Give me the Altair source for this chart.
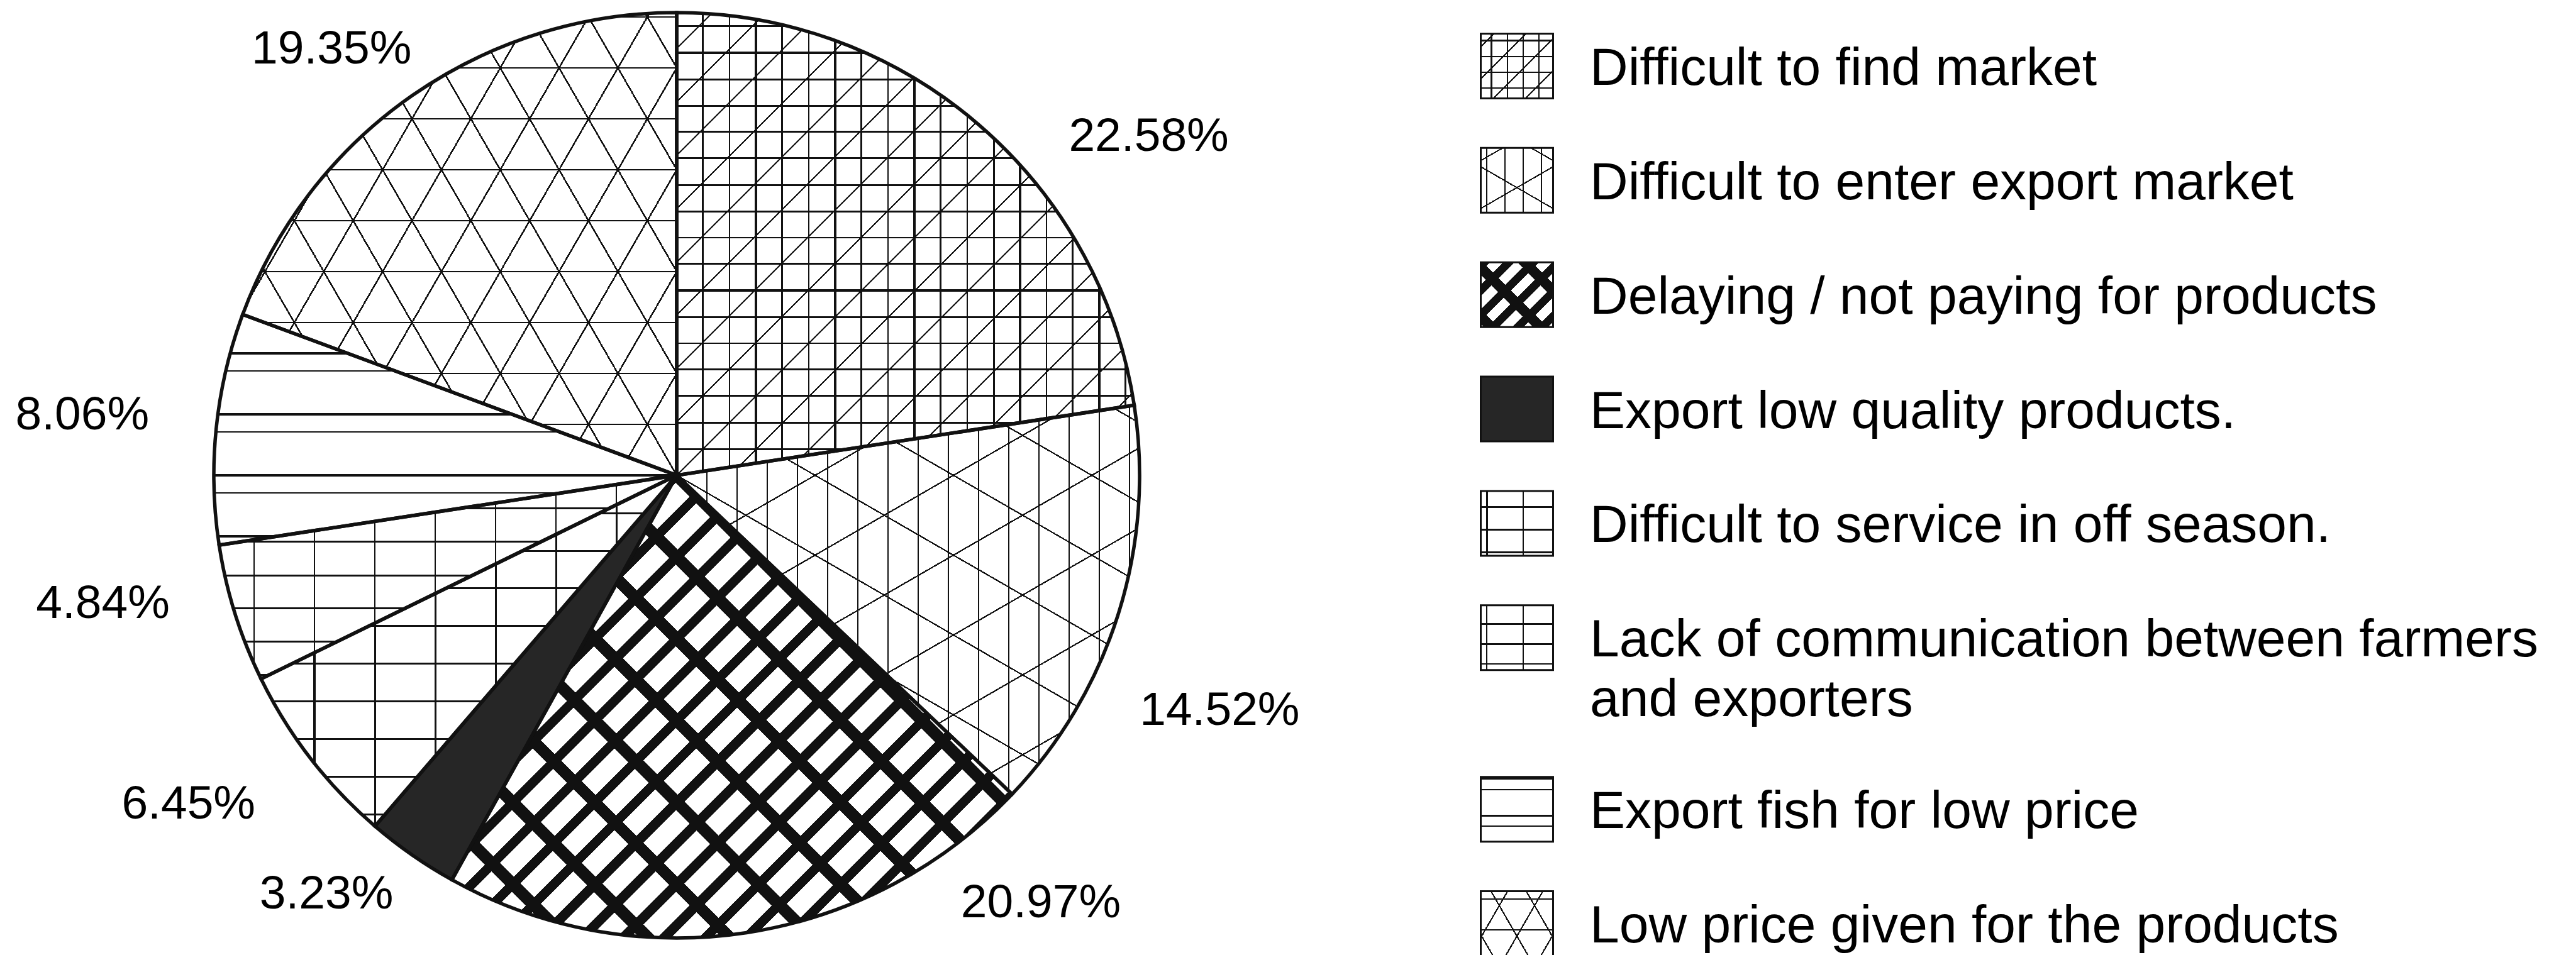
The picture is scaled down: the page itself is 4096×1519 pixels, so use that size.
import math
import altair as alt
import pandas as pd

# ---------------- data ----------------
categories = [
    "Difficult to find market",
    "Difficult to enter export market",
    "Delaying / not paying for products",
    "Export low quality products.",
    "Difficult to service in off season.",
    "Lack of communication between farmers\nand exporters",
    "Export fish for low price",
    "Low price given for the products",
]
percentages = [22.58, 14.52, 20.97, 3.23, 6.45, 4.84, 8.06, 19.35]

df = pd.DataFrame({"cat": categories, "pct": percentages,
                   "idx": list(range(len(categories)))})

# ---------------- style / layout ----------------
FONT = "Liberation Sans"
INK = "#111111"
CLEAR = "rgba(0,0,0,0)"
CX, CY, R = 1068, 748, 736          # pie centre and radius (chart coords)
LABEL_NUDGE = [3.80, 1.67, -8.81, 1.40, 1.04, 1.33, -0.01, -1.16]   # label angle shift, % of circle
LABEL_RADII = [924, 941, 893, 868, 936, 935, 950, 872]              # label distance from centre
BASE = ["white", "white", "white", "#262626", "white", "white", "white", "white"]
# pattern families: (normal angle deg, spacing, line width, colour, phase)
PATTERNS = [
    [(90, 42, 3, INK, 0), (0, 42, 3, INK, 0), (45, 60, 2.2, INK, 0)],
    [(0, 48, 2.2, INK, 0), (60, 110, 2.2, INK, 0), (120, 110, 2.2, INK, 0)],
    [(45, 46, 15, INK, 0), (135, 92, 19, INK, 0)],
    [],
    [(90, 60, 3, INK, 0), (0, 96, 3, INK, 0)],
    [(90, 53, 3, INK, 0), (0, 96, 2.5, INK, 0)],
    [(90, 97, 3.5, INK, 0), (90, 97, 2.5, INK, 28)],
    [(90, 81, 2.5, INK, 0), (30, 81, 2.5, INK, 0), (150, 81, 2.5, INK, 0)],
]
LEG_SCALE = 0.6
BOX_W, BOX_H = 115, 103
BOX_PATH = "M-1,-{0:.4f}L1,-{0:.4f}L1,{0:.4f}L-1,{0:.4f}Z".format(BOX_H / BOX_W)
BOX_SIZE = BOX_W ** 2
LEG_BOX_X, LEG_TEXT_X = 2404, 2520


def arc_bbox(a0, a1, r):
    pts = [(0.0, 0.0)]
    for a in (a0, a1):
        pts.append((r * math.sin(a), -r * math.cos(a)))
    for k in range(0, 5):
        a = k * math.pi / 2
        if a0 < a < a1:
            pts.append((r * math.sin(a), -r * math.cos(a)))
    xs = [p[0] for p in pts]
    ys = [p[1] for p in pts]
    return min(xs), min(ys), max(xs), max(ys)


def stripes(bbox, phi_deg, spacing, width, color, phase=0.0):
    x0, y0, x1, y1 = bbox
    w, h = x1 - x0, y1 - y0
    c, s = math.cos(math.radians(phi_deg)), math.sin(math.radians(phi_deg))
    corners = [(x0, y0), (x1, y0), (x0, y1), (x1, y1)]
    proj = [X * c + Y * s for X, Y in corners]
    smin, smax = min(proj), max(proj)
    D = smax - smin
    Xm, Ym = corners[proj.index(smin)]
    u1, v1 = (Xm - x0) / w, (Ym - y0) / h
    cc = D / ((w * c) ** 2 + (h * s) ** 2)
    dx, dy = cc * w * c, cc * h * s
    stops = [{"offset": 0, "color": CLEAR}]
    last = 0.0
    k0 = math.floor((smin - phase - width) / spacing)
    k1 = math.ceil((smax - phase + width) / spacing)
    for k in range(k0, k1 + 1):
        sc = phase + k * spacing
        ta = max((sc - width / 2 - smin) / D, 0.0)
        tb = min((sc + width / 2 - smin) / D, 1.0)
        ta, tb = round(ta, 6), round(tb, 6)
        ta = max(ta, last)
        if tb <= ta:
            continue
        stops += [{"offset": ta, "color": CLEAR}, {"offset": ta, "color": color},
                  {"offset": tb, "color": color}, {"offset": tb, "color": CLEAR}]
        last = tb
    stops.append({"offset": 1, "color": CLEAR})
    return {"gradient": "linear", "x1": round(u1, 6), "y1": round(v1, 6),
            "x2": round(u1 + dx, 6), "y2": round(v1 + dy, 6), "stops": stops}


nudge_expr = "[" + ",".join(str(v) for v in LABEL_NUDGE) + "]"
radii_expr = "[" + ",".join(str(v) for v in LABEL_RADII) + "]"


def base():
    return (alt.Chart(df)
            .transform_window(cum="sum(pct)", sort=[alt.SortField("idx", order="ascending")],
                              frame=[None, 0])
            .transform_calculate(start="datum.cum - datum.pct",
                                 pos="datum.idx + (datum.idx >= 6 ? 0.5 : 0)",
                                 lab="datum.cum - datum.pct / 2 + " + nudge_expr + "[datum.idx]",
                                 lr=radii_expr + "[datum.idx]",
                                 txt="format(datum.pct, '.2f') + '%'"))


TSCALE = alt.Scale(domain=[0, 100])
TH = alt.Theta("start:Q", scale=TSCALE, stack=False)
TH2 = alt.Theta2("cum:Q")
PX, PY = alt.value(CX), alt.value(CY)
FILL = alt.Fill("cat:N", scale=alt.Scale(domain=categories, range=BASE), legend=None)
LEG_Y = alt.Y("pos:Q", scale=alt.Scale(domain=[0, 7.5], range=[97, 1461], nice=False, zero=False),
              axis=None)

layers = []
# pie base fills
layers.append(base().mark_arc(radius=R).encode(theta=TH, theta2=TH2, x=PX, y=PY, fill=FILL))

# pie patterns
cum = 0.0
for i, p in enumerate(percentages):
    a0 = cum / 100 * 2 * math.pi
    cum += p
    a1 = cum / 100 * 2 * math.pi
    bb = arc_bbox(a0, a1, R)
    for (phi, sp, lw, col, ph) in PATTERNS[i]:
        g = stripes(bb, phi, sp, lw, col, ph)
        layers.append(base().transform_filter(f"datum.idx == {i}")
                      .mark_arc(radius=R, fill=g)
                      .encode(theta=TH, theta2=TH2, x=PX, y=PY))

# pie outlines
layers.append(base().mark_arc(radius=R, fill="transparent", stroke=INK, strokeWidth=5.5)
              .encode(theta=TH, theta2=TH2, x=PX, y=PY))

# percentage labels
layers.append(base().mark_text(font=FONT, fontSize=75, color="black",
                               align="center", baseline="middle")
              .encode(theta=alt.Theta("lab:Q", scale=TSCALE, stack=False),
                      radius=alt.Radius("lr:Q", scale=None),
                      text="txt:N", x=PX, y=PY))

# legend boxes
layers.append(base().mark_point(shape=BOX_PATH, size=BOX_SIZE, filled=True, opacity=1,
                                strokeWidth=0)
              .encode(x=alt.value(LEG_BOX_X), y=LEG_Y, fill=FILL))
lbb = (-BOX_W / 2, -BOX_H / 2, BOX_W / 2, BOX_H / 2)
for i in range(len(categories)):
    for (phi, sp, lw, col, ph) in PATTERNS[i]:
        g = stripes(lbb, phi, sp * LEG_SCALE, max(lw * 0.85, 2), col, ph * LEG_SCALE + 10)
        layers.append(base().transform_filter(f"datum.idx == {i}")
                      .mark_point(shape=BOX_PATH, size=BOX_SIZE, filled=True, opacity=1,
                                  fill=g, strokeWidth=0)
                      .encode(x=alt.value(LEG_BOX_X), y=LEG_Y))
layers.append(base().mark_point(shape=BOX_PATH, size=BOX_SIZE, filled=False, opacity=1,
                                stroke=INK, strokeWidth=3)
              .encode(x=alt.value(LEG_BOX_X), y=LEG_Y))

# legend text
layers.append(base().mark_text(font=FONT, fontSize=84, color="black", align="left",
                               baseline="top", dy=-36, lineHeight=95, lineBreak="\n")
              .encode(x=alt.value(LEG_TEXT_X), y=LEG_Y, text="cat:N"))

chart = (alt.layer(*layers)
         .properties(width=4080, height=1511, padding=0, autosize="none", background="white")
         .configure_view(stroke="transparent"))

chart.save("out.html", embed_options={"renderer": "svg", "actions": False})
